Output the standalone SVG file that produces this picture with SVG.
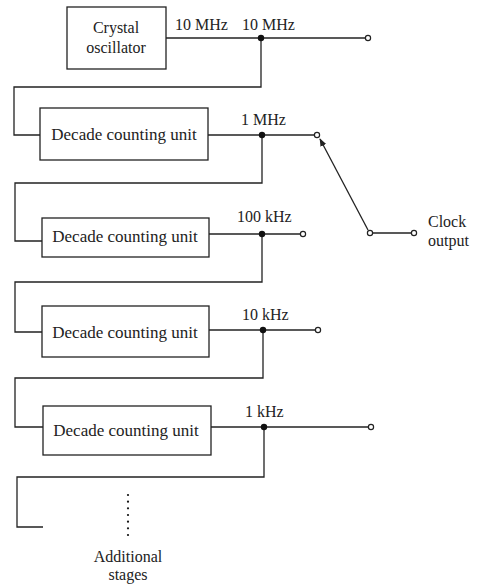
<svg xmlns="http://www.w3.org/2000/svg" width="480" height="584" viewBox="0 0 480 584">
<defs>
<style>
.box{fill:#fff;stroke:#222;stroke-width:1.3}
.w{fill:none;stroke:#222;stroke-width:1.3}
.t{font-family:"Liberation Serif","Times New Roman",serif;font-size:16px;fill:#222}
.tb{font-family:"Liberation Serif","Times New Roman",serif;font-size:17px;fill:#222}
.dot{fill:#111}
.oc{fill:#fff;stroke:#222;stroke-width:1.2}
</style>
<marker id="ah" viewBox="0 0 10 10" refX="9" refY="5" markerWidth="8" markerHeight="8" orient="auto" markerUnits="userSpaceOnUse">
<path d="M0,1 L10,5 L0,9 z" fill="#222"/>
</marker>
</defs>
<rect width="480" height="584" fill="#fff"/>
<g id="connectors">
<path class="w" d="M166,38 H366"/>
<path class="w" d="M261,38 V87 H14 V135 H40"/>
<path class="w" d="M208,135 H314"/>
<path class="w" d="M262,135 V183 H15 V241 H42"/>
<path class="w" d="M209,234 H300"/>
<path class="w" d="M262,234 V282 H15 V332 H42"/>
<path class="w" d="M209,330 H315"/>
<path class="w" d="M263,330 V378 H15 V427 H43"/>
<path class="w" d="M211,427 H368"/>
<path class="w" d="M264,427 V477 H17 V527 H43"/>
<path class="w" d="M368,230 L320,139" marker-end="url(#ah)"/>
<path class="w" d="M370,233 H411"/>
<circle class="dot" cx="261" cy="38" r="3.2"/>
<circle class="dot" cx="262" cy="135" r="3.2"/>
<circle class="dot" cx="262" cy="234" r="3.2"/>
<circle class="dot" cx="263" cy="330" r="3.2"/>
<circle class="dot" cx="264" cy="427" r="3.2"/>
<circle class="oc" cx="368" cy="38" r="2.6"/>
<circle class="oc" cx="317" cy="135" r="2.6"/>
<circle class="oc" cx="303" cy="234" r="2.6"/>
<circle class="oc" cx="318" cy="330" r="2.6"/>
<circle class="oc" cx="371" cy="427" r="2.6"/>
<circle class="oc" cx="370" cy="233" r="2.6"/>
<circle class="oc" cx="414" cy="233" r="2.6"/>
</g>
<g id="crystal">
<rect class="box" x="67" y="7" width="99" height="62"/>
<text class="t" x="116" y="33" text-anchor="middle">Crystal</text>
<text class="t" x="116" y="53" text-anchor="middle">oscillator</text>
</g>
<g id="dcu1">
<rect class="box" x="40" y="108" width="168" height="52"/>
<text class="tb" x="124" y="140" text-anchor="middle">Decade counting unit</text>
</g>
<g id="dcu2">
<rect class="box" x="42" y="218" width="167" height="39"/>
<text class="tb" x="125" y="242" text-anchor="middle">Decade counting unit</text>
</g>
<g id="dcu3">
<rect class="box" x="42" y="306" width="167" height="51"/>
<text class="tb" x="125" y="338" text-anchor="middle">Decade counting unit</text>
</g>
<g id="dcu4">
<rect class="box" x="43" y="406" width="168" height="49"/>
<text class="tb" x="126" y="436" text-anchor="middle">Decade counting unit</text>
</g>
<g id="labels">
<text class="t" x="175" y="30">10 MHz</text>
<text class="t" x="242" y="30">10 MHz</text>
<text class="t" x="241" y="125">1 MHz</text>
<text class="t" x="237" y="222">100 kHz</text>
<text class="t" x="242" y="320">10 kHz</text>
<text class="t" x="245" y="417">1 kHz</text>
</g>
<g id="clock-output">
<text class="t" x="428" y="227">Clock</text>
<text class="t" x="428" y="246">output</text>
</g>
<g id="additional">
<g class="dot">
<circle cx="128" cy="495" r="1.1"/>
<circle cx="128" cy="501.7" r="1.1"/>
<circle cx="128" cy="508.3" r="1.1"/>
<circle cx="128" cy="515" r="1.1"/>
<circle cx="128" cy="521.7" r="1.1"/>
<circle cx="128" cy="528.3" r="1.1"/>
<circle cx="128" cy="535" r="1.1"/>
</g>
<text class="t" x="128" y="562" text-anchor="middle">Additional</text>
<text class="t" x="128" y="580" text-anchor="middle">stages</text>
</g>
</svg>
